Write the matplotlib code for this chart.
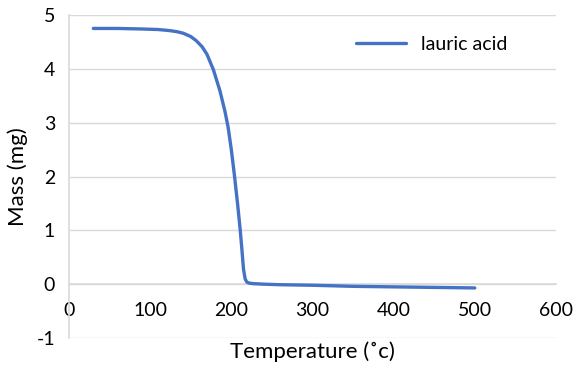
import matplotlib
matplotlib.use("Agg")
import matplotlib.pyplot as plt

# TGA curve of lauric acid
temperature = [30, 60, 90, 110, 124, 133, 141, 150, 157, 164, 170, 178, 186,
               192, 196, 200, 204, 208, 211, 213, 215, 217, 219, 222, 227,
               240, 260, 300, 350, 400, 450, 500]
mass = [4.75, 4.75, 4.74, 4.73, 4.71, 4.69, 4.66, 4.60, 4.52, 4.41, 4.27,
        3.98, 3.59, 3.22, 2.92, 2.50, 2.00, 1.45, 1.00, 0.65, 0.28, 0.10,
        0.04, 0.02, 0.01, 0.0, -0.01, -0.02, -0.04, -0.05, -0.06, -0.07]
series_name = "lauric acid"
x_ticks = [0, 100, 200, 300, 400, 500, 600]
y_ticks = [-1, 0, 1, 2, 3, 4, 5]

plt.rcParams['font.family'] = ['Lato', 'DejaVu Sans']
plt.rcParams['axes.unicode_minus'] = False

fig = plt.figure(figsize=(5.73, 3.73), dpi=100)
ax = fig.add_axes([0.1204, 0.0938, 0.8499, 0.866])

grid_col = '#d9d9d9'
ax.plot(temperature, mass, color='#4472C4', linewidth=2.4, label=series_name,
        solid_capstyle='round', solid_joinstyle='round', zorder=3)

ax.set_xlim(0, 600)
ax.set_ylim(-1, 5)
ax.set_xticks(x_ticks)
ax.set_yticks(y_ticks)
ax.yaxis.grid(True, color=grid_col, linewidth=1)
ax.set_axisbelow(True)

for s in ['top', 'right']:
    ax.spines[s].set_visible(False)
ax.spines['left'].set_color(grid_col)
ax.spines['left'].set_linewidth(1.2)
ax.spines['bottom'].set_position(('data', 0))
ax.spines['bottom'].set_color(grid_col)
ax.spines['bottom'].set_linewidth(1.2)

ax.tick_params(axis='x', length=0, pad=13, labelsize=14, colors='black')
ax.tick_params(axis='y', length=0, pad=10, labelsize=14, colors='black')

ax.set_xlabel('Temperature (˚c)', fontsize=16, labelpad=16)
ax.set_ylabel('Mass (mg)', fontsize=16, labelpad=6)

ax.legend(loc='center left', bbox_to_anchor=(0.589, 0.91), frameon=False,
          borderaxespad=0, borderpad=0, handlelength=2.6, handletextpad=0.75,
          fontsize=14)

fig.savefig('out.png', dpi=100)
